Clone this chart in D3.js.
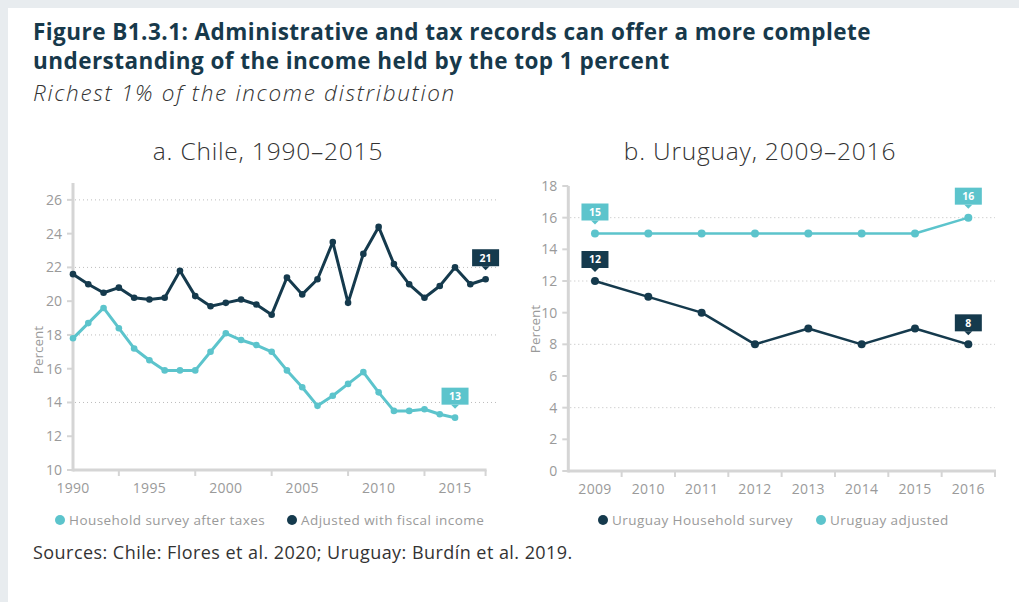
<!DOCTYPE html>
<html lang="en">
<head>
  <meta charset="UTF-8">
  <title>Figure B1.3.1</title>
  <script src="https://d3js.org/d3.v7.min.js"></script>
  <style>
    body { margin: 0; overflow: hidden; background: #e8ecef; }
    svg { display: block; font-family: "Open Sans", Lato, sans-serif; }
    .grid { stroke: #bdbdbd; stroke-width: 1; stroke-dasharray: 1,3; }
    .axis-line { stroke: #d5d5d5; stroke-width: 3; fill: none; }
    .tick-mark { stroke: #d5d5d5; stroke-width: 2; }
    .tick-label { fill: #9a9a9a; font-size: 14px; }
    .legend { fill: #9a9a9a; font-size: 13.5px; letter-spacing: 0.45px; }
  </style>
</head>
<body>
  <svg width="1019" height="602"></svg>

  <script>
    const DARK = '#153a4d';
    const LIGHT = '#5cc4cc';

    // Chile, 1990-2017
    const chileYears = d3.range(1990, 2018);
    const chileAdjusted = [21.6, 21.0, 20.5, 20.8, 20.2, 20.1, 20.2, 21.8, 20.3, 19.7, 19.9, 20.1, 19.8, 19.2,
      21.4, 20.4, 21.3, 23.5, 19.9, 22.8, 24.4, 22.2, 21.0, 20.2, 20.9, 22.0, 21.0, 21.3];
    const chileSurvey = [17.8, 18.7, 19.6, 18.4, 17.2, 16.5, 15.9, 15.9, 15.9, 17.0, 18.1, 17.7, 17.4, 17.0,
      15.9, 14.9, 13.8, 14.4, 15.1, 15.8, 14.6, 13.5, 13.5, 13.6, 13.3, 13.1];
    const chileYTicks = [10, 12, 14, 16, 18, 20, 22, 24, 26];
    const chileGrid = [14, 18, 22, 26];
    const chileXLabels = [1990, 1995, 2000, 2005, 2010, 2015];
    const chileXTicks = [1993, 1998, 2003, 2008, 2013, 2017];

    // Uruguay, 2009-2016
    const uyYears = ['2009', '2010', '2011', '2012', '2013', '2014', '2015', '2016'];
    const uySurvey = [12, 11, 10, 8, 9, 8, 9, 8];
    const uyAdjusted = [15, 15, 15, 15, 15, 15, 15, 16];
    const uyYTicks = [0, 2, 4, 6, 8, 10, 12, 14, 16, 18];
    const uyGrid = [4, 8, 12, 16];

    const svg = d3.select('svg');

    // card
    svg.append('rect').attr('x', 8).attr('y', 8).attr('width', 1011).attr('height', 594).attr('fill', '#fff');

    // titles
    const title = svg.append('text').attr('x', 33).attr('fill', '#17394b')
      .style('font-size', '22.5px').style('font-weight', 700).style('letter-spacing', '0.45px');
    title.append('tspan').attr('x', 33).attr('y', 40)
      .text('Figure B1.3.1: Administrative and tax records can offer a more complete');
    title.append('tspan').attr('x', 33).attr('y', 69)
      .text('understanding of the income held by the top 1 percent');
    svg.append('text').attr('x', 33).attr('y', 101).attr('fill', '#333')
      .style('font-size', '22.5px').style('font-style', 'italic').style('font-weight', 300)
      .style('letter-spacing', '1.7px')
      .text('Richest 1% of the income distribution');

    svg.append('text').attr('x', 268).attr('y', 160).attr('text-anchor', 'middle').attr('fill', '#333')
      .style('font-size', '24.5px').style('font-weight', 300).style('letter-spacing', '0.8px')
      .text('a. Chile, 1990–2015');
    svg.append('text').attr('x', 760).attr('y', 160).attr('text-anchor', 'middle').attr('fill', '#333')
      .style('font-size', '24.5px').style('font-weight', 300).style('letter-spacing', '0.8px')
      .text('b. Uruguay, 2009–2016');

    svg.append('text').attr('x', 33).attr('y', 559).attr('fill', '#333')
      .style('font-size', '18px').style('letter-spacing', '0.45px')
      .text('Sources: Chile: Flores et al. 2020; Uruguay: Burdín et al. 2019.');

    function yAxis(g, y, ticks, grid, x0, x1) {
      g.selectAll('.grid').data(grid).join('line').attr('class', 'grid')
        .attr('x1', x0 + 2).attr('x2', x1).attr('y1', d => y(d)).attr('y2', d => y(d));
      g.selectAll('.ytick').data(ticks).join('line').attr('class', 'tick-mark ytick')
        .attr('x1', x0 - 6).attr('x2', x0).attr('y1', d => y(d)).attr('y2', d => y(d));
      g.selectAll('.ylab').data(ticks).join('text').attr('class', 'tick-label ylab')
        .attr('x', x0 - 11).attr('y', d => y(d)).attr('dy', '0.35em').attr('text-anchor', 'end')
        .text(d => d);
      g.append('line').attr('class', 'axis-line')
        .attr('x1', x0).attr('x2', x0).attr('y1', y.range()[1]).attr('y2', y.range()[0] + 1.5);
    }

    function valueLabel(g, x, y, value, color) {
      const w = 27, h = 17, gap = 13;
      const lg = g.append('g').attr('transform', `translate(${x},${y - gap})`);
      lg.append('rect').attr('x', -w / 2).attr('y', -h).attr('width', w).attr('height', h).attr('fill', color);
      lg.append('path').attr('d', 'M-4,0L0,4L4,0Z').attr('fill', color);
      lg.append('text').attr('y', -h / 2).attr('dy', '0.36em').attr('text-anchor', 'middle')
        .attr('fill', '#fff').style('font-size', '10.5px').style('font-weight', 700).text(value);
    }

    function series(g, data, x, y, color, width, r) {
      const line = d3.line().x(d => x(d[0])).y(d => y(d[1]));
      g.append('path').datum(data).attr('d', line).attr('fill', 'none')
        .attr('stroke', color).attr('stroke-width', width).attr('stroke-linejoin', 'round');
      g.selectAll(null).data(data).join('circle')
        .attr('cx', d => x(d[0])).attr('cy', d => y(d[1])).attr('r', r).attr('fill', color);
    }

    function legend(g, items, yPos) {
      items.forEach(it => {
        g.append('circle').attr('cx', it.x).attr('cy', yPos).attr('r', 5).attr('fill', it.color);
        g.append('text').attr('class', 'legend').attr('x', it.x + 9).attr('y', yPos).attr('dy', '0.35em').text(it.label);
      });
    }

    // ---- a. Chile
    const gA = svg.append('g');
    const xA = d3.scaleLinear().domain([1990, 2017]).range([73, 485.6]);
    const yA = d3.scaleLinear().domain([10, 27]).range([470, 183]);
    yAxis(gA, yA, chileYTicks, chileGrid, 73, 498);
    gA.append('line').attr('class', 'axis-line').attr('x1', 73).attr('x2', xA(2017) + 1).attr('y1', 470).attr('y2', 470);
    gA.selectAll('.xtick').data(chileXTicks).join('line').attr('class', 'tick-mark xtick')
      .attr('x1', d => xA(d)).attr('x2', d => xA(d)).attr('y1', 470).attr('y2', 476);
    gA.selectAll('.xlab').data(chileXLabels).join('text').attr('class', 'tick-label xlab')
      .attr('x', d => xA(d)).attr('y', 493).attr('text-anchor', 'middle').style('letter-spacing', '0.3px').text(d => d);
    gA.append('text').attr('class', 'tick-label').attr('transform', 'translate(43,350) rotate(-90)')
      .attr('text-anchor', 'middle').style('font-size', '13.5px').text('Percent');

    const surveyPts = chileSurvey.map((v, i) => [chileYears[i], v]);
    const adjustedPts = chileAdjusted.map((v, i) => [chileYears[i], v]);
    series(gA, surveyPts, xA, yA, LIGHT, 3, 3.3);
    series(gA, adjustedPts, xA, yA, DARK, 3, 3.3);
    const lastS = surveyPts[surveyPts.length - 1], lastA = adjustedPts[adjustedPts.length - 1];
    valueLabel(gA, xA(lastS[0]), yA(lastS[1]), Math.round(lastS[1]), LIGHT);
    valueLabel(gA, xA(lastA[0]), yA(lastA[1]), Math.round(lastA[1]), DARK);

    legend(gA, [
      { x: 60, color: LIGHT, label: 'Household survey after taxes' },
      { x: 292, color: DARK, label: 'Adjusted with fiscal income' }
    ], 520);

    // ---- b. Uruguay
    const gB = svg.append('g');
    const xB = d3.scaleBand().domain(uyYears).range([568.3, 995]);
    const yB = d3.scaleLinear().domain([0, 18]).range([471, 186]);
    yAxis(gB, yB, uyYTicks, uyGrid, 568.3, 995);
    gB.append('line').attr('class', 'axis-line').attr('x1', 568.3).attr('x2', 996).attr('y1', 471).attr('y2', 471);
    gB.selectAll('.xtick').data(uyYears).join('line').attr('class', 'tick-mark xtick')
      .attr('x1', d => xB(d) + xB.bandwidth()).attr('x2', d => xB(d) + xB.bandwidth()).attr('y1', 471).attr('y2', 477);
    gB.selectAll('.xlab').data(uyYears).join('text').attr('class', 'tick-label xlab')
      .attr('x', d => xB(d) + xB.bandwidth() / 2).attr('y', 494).attr('text-anchor', 'middle')
      .style('letter-spacing', '0.3px').text(d => d);
    gB.append('text').attr('class', 'tick-label').attr('transform', 'translate(540,329) rotate(-90)')
      .attr('text-anchor', 'middle').style('font-size', '13.5px').text('Percent');

    const xc = d => xB(d) + xB.bandwidth() / 2;
    const uyS = uySurvey.map((v, i) => [uyYears[i], v]);
    const uyA = uyAdjusted.map((v, i) => [uyYears[i], v]);
    series(gB, uyA, xc, yB, LIGHT, 2.5, 4);
    series(gB, uyS, xc, yB, DARK, 2.5, 4);
    [uyA[0], uyA[uyA.length - 1]].forEach(d => valueLabel(gB, xc(d[0]), yB(d[1]), d[1], LIGHT));
    [uyS[0], uyS[uyS.length - 1]].forEach(d => valueLabel(gB, xc(d[0]), yB(d[1]), d[1], DARK));

    legend(gB, [
      { x: 603, color: DARK, label: 'Uruguay Household survey' },
      { x: 821, color: LIGHT, label: 'Uruguay adjusted' }
    ], 520);
  </script>
</body>
</html>
